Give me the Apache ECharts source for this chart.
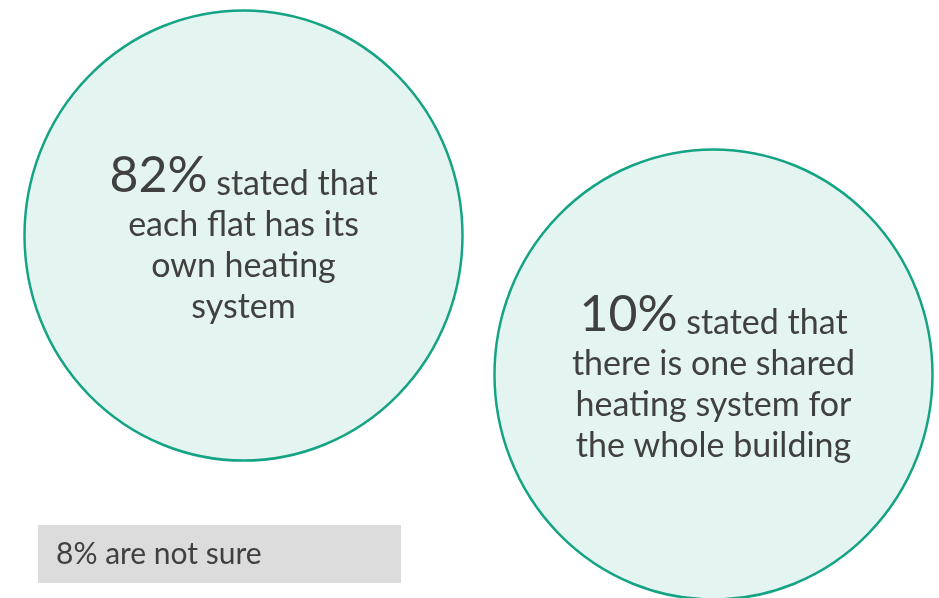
<!DOCTYPE html>
<html><head><meta charset="utf-8">
<script src="https://cdn.jsdelivr.net/npm/echarts@6/dist/echarts.min.js"></script>
<style>html,body{margin:0;padding:0;background:#fff;}#c{width:939px;height:598px;}</style>
</head><body><div id="c"></div>
<script>
// Data
var shares = [82, 10, 8];
var statements = [
  ["stated that", "each flat has its", "own heating", "system"],
  ["stated that", "there is one shared", "heating system for", "the whole building"],
  ["are not sure"]
];

// layout (not data)
var circleCenters = [[243.5, 235.5], [713.5, 374.5]];
var circleSize = [438, 450];
var boxCenter = [219.5, 554];
var boxSize = [363, 58];
var FONT = 'Lato';

function circleLabel(i) {
  var lines = statements[i];
  var s = '{big|' + shares[i] + '%}{txt| ' + lines[0] + '}';
  for (var k = 1; k < lines.length; k++) s += '\n{txt|' + lines[k] + '}';
  return s;
}

var chart = echarts.init(document.getElementById('c'), null, {renderer: 'canvas'});
chart.setOption({
  animation: false,
  grid: {left: 0, right: 0, top: 0, bottom: 0},
  xAxis: {type: 'value', min: 0, max: 939, show: false},
  yAxis: {type: 'value', min: 0, max: 598, inverse: true, show: false},
  series: [
    {
      type: 'scatter',
      symbol: 'circle',
      symbolSize: circleSize,
      itemStyle: {color: '#e4f5f1', borderColor: '#14a383', borderWidth: 2.5, opacity: 1},
      data: [0, 1].map(function (i) {
        return {value: [circleCenters[i][0], circleCenters[i][1], shares[i]]};
      }),
      label: {
        show: true,
        position: 'inside',
        offset: [0, 4],
        formatter: function (p) { return circleLabel(p.dataIndex); },
        color: '#404040',
        align: 'center',
        rich: {
          big: {fontFamily: FONT, fontSize: 50, color: '#404040', lineHeight: 46, verticalAlign: 'bottom'},
          txt: {fontFamily: FONT, fontSize: 34, color: '#404040', lineHeight: 41, verticalAlign: 'bottom'}
        }
      },
      emphasis: {disabled: true}
    },
    {
      type: 'scatter',
      symbol: 'rect',
      symbolSize: boxSize,
      itemStyle: {color: '#dcdcdc', opacity: 1},
      data: [{value: [boxCenter[0], boxCenter[1], shares[2]]}],
      label: {
        show: true,
        position: 'insideLeft',
        distance: 18,
        formatter: function () { return shares[2] + '% ' + statements[2][0]; },
        fontFamily: FONT, fontSize: 30, color: '#404040'
      },
      emphasis: {disabled: true}
    }
  ]
});
</script></body></html>
